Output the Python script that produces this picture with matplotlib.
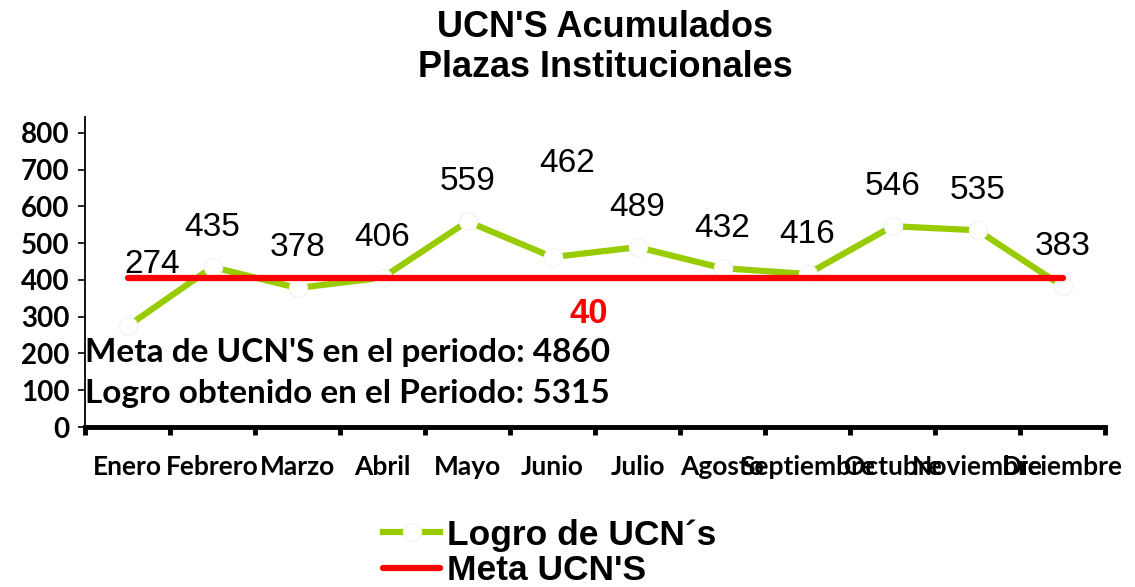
import matplotlib
matplotlib.use("Agg")
import matplotlib.pyplot as plt
from matplotlib.lines import Line2D

months = ["Enero", "Febrero", "Marzo", "Abril", "Mayo", "Junio", "Julio",
          "Agosto", "Septiembre", "Octubre", "Noviembre", "Diciembre"]
logro = [274, 435, 378, 406, 559, 462, 489, 432, 416, 546, 535, 383]
meta = [405] * 12
meta_label = "40"
yticks = [0, 100, 200, 300, 400, 500, 600, 700, 800]
title = "UCN'S Acumulados\nPlazas Institucionales"
note1 = "Meta de UCN'S en el periodo: 4860"
note2 = "Logro obtenido en el Periodo: 5315"
legend_labels = ["Logro de UCN\u00b4s", "Meta UCN'S"]

ARIAL = "Liberation Sans"
CAL = "Lato"
GREEN = "#99CC00"
RED = "#FF0000"

fig = plt.figure(figsize=(11.35, 5.87), dpi=100)
ax = fig.add_axes([85/1135, 1-427/587, (1105-85)/1135, (427-117)/587])

x = list(range(len(months)))
ax.plot(x, logro, color=GREEN, lw=4.5, marker='o', ms=13,
        mfc='white', mec='#f4f4f4', mew=1, zorder=3)
ax.plot(x, meta, color=RED, lw=4.5, solid_capstyle='round', zorder=4)

# data labels
offsets = [(25, 62)] + [(0, 40)] * 4 + [(15, 94)] + [(0, 40)] * 6
for i, v in enumerate(logro):
    dx, dy = offsets[i]
    ax.annotate(str(v), (i, v), xytext=(dx, dy), textcoords='offset pixels',
                ha='center', va='center', fontsize=24, family=ARIAL,
                color='black', zorder=5)
ax.annotate(meta_label, (5.45, meta[5]), xytext=(-2, -35), textcoords='offset pixels',
            ha='center', va='center', fontsize=25, family=ARIAL,
            fontweight='bold', color=RED, zorder=5)

ax.text(-0.5, 203, note1, ha='left', va='center', fontsize=24,
        family=CAL, fontweight='bold', zorder=6)
ax.text(-0.5, 90, note2, ha='left', va='center', fontsize=24,
        family=CAL, fontweight='bold', zorder=6)

ax.set_xlim(-0.5, 11.5)
ax.set_ylim(0, 843)
ax.set_yticks(yticks)
ax.set_yticklabels([str(t) for t in yticks], fontsize=20, family=CAL,
                   fontweight='bold')
ax.set_xticks([i + 0.5 for i in range(-1, 12)])
ax.set_xticklabels([])
ax.set_xticks(x, minor=True)
ax.set_xticklabels(months, minor=True, fontsize=19, family=CAL, fontweight='bold')
ax.tick_params(axis='x', which='major', direction='out', length=6, width=3.5)
ax.tick_params(axis='x', which='minor', length=0, pad=20)
ax.tick_params(axis='y', direction='out', length=5, width=1.2, pad=6)
for s in ['top', 'right']:
    ax.spines[s].set_visible(False)
ax.spines['left'].set_linewidth(1.3)
ax.spines['bottom'].set_linewidth(3.5)

fig.text(605/1135, 1-10/587, title, ha='center', va='top', fontsize=26,
         family=ARIAL, fontweight='bold', linespacing=1.2)

handles = [Line2D([], [], color=GREEN, lw=4.5, marker='o', ms=13,
                  mfc='white', mec='#f4f4f4', mew=1),
           Line2D([], [], color=RED, lw=4.5, solid_capstyle='round')]
fig.legend(handles, legend_labels, loc='center', bbox_to_anchor=(550/1135, 1-553/587),
           frameon=False, prop={'family': ARIAL, 'weight': 'bold', 'size': 25.5},
           handlelength=1.6, handletextpad=0.2, labelspacing=0.08, numpoints=1,
           borderpad=0)

fig.savefig("out.png", dpi=100)
